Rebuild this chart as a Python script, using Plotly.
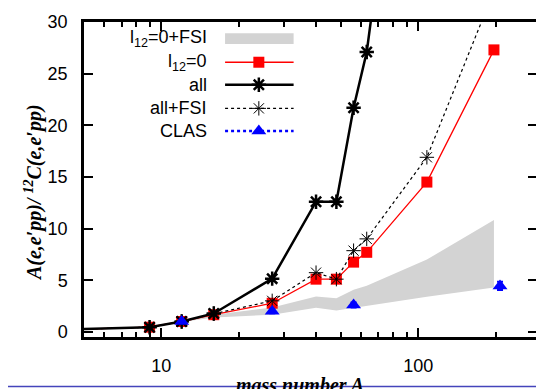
import plotly.graph_objects as go

# ---------------- data ----------------
A = [4, 9, 12, 16, 27, 40, 48, 56, 63, 108, 197]
l12_0 = [0.2, 0.45, 1.0, 1.66, 2.77, 5.1, 5.1, 6.75, 7.7, 14.5, 27.3]
all_ = [0.2, 0.45, 1.0, 1.78, 5.15, 12.6, 12.6, 21.7, 27.1, 65.0, 120.0]
all_fsi = [0.2, 0.45, 1.0, 1.75, 3.0, 5.73, 5.1, 7.86, 9.0, 16.9, 33.0]
band_lo = [0.15, 0.42, 0.95, 1.4, 1.65, 2.33, 2.07, 2.3, 2.55, 3.4, 4.29]
band_hi = [0.2, 0.45, 1.0, 1.66, 2.35, 3.41, 3.24, 4.07, 4.46, 7.0, 10.82]
clas_A = [12, 27, 56, 208]
clas_v = [1.0, 2.0, 2.6, 4.45]
clas_err = [0.1, 0.2, 0.25, 0.4]

x_ticks = [10, 100]
x_minor = [5, 6, 7, 8, 9, 20, 30, 40, 50, 60, 70, 80, 90, 200, 300]
y_ticks = [0, 5, 10, 15, 20, 25, 30]

legend_names = ["l<sub>12</sub>=0+FSI", "l<sub>12</sub>=0", "all", "all+FSI", "CLAS"]

# ---------------- styles ----------------
RED = "#ff0000"
BLUE = "#0000ff"
GRAY = "#d3d3d3"
SANS = "Liberation Sans, Arial, Helvetica, sans-serif"
SERIF = "Liberation Serif, Times New Roman, serif"

# page geometry (browser body has an 8px margin)
OFF = 8
PAGE_W, PAGE_H = 544, 389
PX0, PX1, PY0, PY1 = 84, 540, 16, 337   # plot area on the page
W, H = PAGE_W - OFF, PAGE_H - OFF
ML, MT = PX0 - OFF, PY0 - OFF
MR = W - (PX1 - OFF)
MB = H - (PY1 - OFF)
pw = PX1 - PX0
ph = PY1 - PY0


def paper_x(px):
    return (px - PX0) / pw


def paper_y(py):
    return (PY1 - py) / ph


fig = go.Figure()

# band
fig.add_trace(go.Scatter(x=A + A[::-1], y=band_hi + band_lo[::-1], fill="toself",
                         fillcolor=GRAY, line=dict(width=0, color=GRAY), mode="lines",
                         showlegend=False, hoverinfo="skip"))
# l12=0
fig.add_trace(go.Scatter(x=A, y=l12_0, mode="lines+markers",
                         line=dict(color=RED, width=1.3),
                         marker=dict(symbol="square", size=11, color=RED),
                         showlegend=False))
# all
fig.add_trace(go.Scatter(x=A, y=all_, mode="lines+markers",
                         line=dict(color="black", width=2.5),
                         marker=dict(symbol="asterisk-open", size=12, color="black",
                                     line=dict(color="black", width=2.5)),
                         showlegend=False))
# all+FSI
fig.add_trace(go.Scatter(x=A, y=all_fsi, mode="lines+markers",
                         line=dict(color="black", width=1.2, dash="dot"),
                         marker=dict(symbol="asterisk-open", size=12, color="black",
                                     line=dict(color="black", width=1)),
                         showlegend=False))
# CLAS
fig.add_trace(go.Scatter(x=clas_A, y=clas_v, mode="markers",
                         marker=dict(symbol="triangle-up", size=13, color=BLUE),
                         error_y=dict(type="data", array=clas_err, color=BLUE,
                                      thickness=2, width=3),
                         showlegend=False))

# ------------- custom key (gnuplot style: text right, sample left) -------------
key_text_x = 210
key_x0, key_x1, key_xm = 226, 295, 260
key_y = [33, 57, 80, 104, 127]

fig.add_trace(go.Scatter(x=[key_x0, key_x1, key_x1, key_x0, key_x0],
                         y=[key_y[0] - 5.5, key_y[0] - 5.5, key_y[0] + 5.5, key_y[0] + 5.5, key_y[0] - 5.5],
                         fill="toself", fillcolor=GRAY, line=dict(width=0, color=GRAY),
                         mode="lines", xaxis="x2", yaxis="y2", showlegend=False, hoverinfo="skip"))
fig.add_trace(go.Scatter(x=[key_x0, key_x1], y=[key_y[1]] * 2, mode="lines",
                         line=dict(color=RED, width=1.3), xaxis="x2", yaxis="y2",
                         showlegend=False, hoverinfo="skip"))
fig.add_trace(go.Scatter(x=[key_xm], y=[key_y[1]], mode="markers",
                         marker=dict(symbol="square", size=11, color=RED), xaxis="x2", yaxis="y2",
                         showlegend=False, hoverinfo="skip"))
fig.add_trace(go.Scatter(x=[key_x0, key_x1], y=[key_y[2]] * 2, mode="lines",
                         line=dict(color="black", width=2.5), xaxis="x2", yaxis="y2",
                         showlegend=False, hoverinfo="skip"))
fig.add_trace(go.Scatter(x=[key_xm], y=[key_y[2]], mode="markers",
                         marker=dict(symbol="asterisk-open", size=12, color="black",
                                     line=dict(color="black", width=2.5)),
                         xaxis="x2", yaxis="y2", showlegend=False, hoverinfo="skip"))
fig.add_trace(go.Scatter(x=[key_x0, key_x1], y=[key_y[3]] * 2, mode="lines",
                         line=dict(color="black", width=1.2, dash="dot"), xaxis="x2", yaxis="y2",
                         showlegend=False, hoverinfo="skip"))
fig.add_trace(go.Scatter(x=[key_xm], y=[key_y[3]], mode="markers",
                         marker=dict(symbol="asterisk-open", size=12, color="black",
                                     line=dict(color="black", width=1)),
                         xaxis="x2", yaxis="y2", showlegend=False, hoverinfo="skip"))
fig.add_trace(go.Scatter(x=[key_x0, key_x1], y=[key_y[4]] * 2, mode="lines",
                         line=dict(color=BLUE, width=2.5, dash="dot"), xaxis="x2", yaxis="y2",
                         showlegend=False, hoverinfo="skip"))
fig.add_trace(go.Scatter(x=[key_xm], y=[key_y[4]], mode="markers",
                         marker=dict(symbol="triangle-up", size=13, color=BLUE),
                         xaxis="x2", yaxis="y2", showlegend=False, hoverinfo="skip"))

annotations = []
for name, yy in zip(legend_names, key_y):
    annotations.append(dict(text=name, x=key_text_x, y=yy, xref="x2", yref="y2",
                            xanchor="right", yanchor="middle", showarrow=False,
                            font=dict(family=SANS, size=18, color="black")))

# axis titles
annotations.append(dict(text="<b><i>mass number A</i></b>",
                        x=paper_x(301), y=paper_y(373),
                        xref="paper", yref="paper", xanchor="center", yanchor="top",
                        showarrow=False, font=dict(family=SERIF, size=20, color="black")))
annotations.append(dict(text="<b><i>A(e,e′pp)/ <sup>12</sup>C(e,e′pp)</i></b>",
                        x=paper_x(33), y=paper_y(190),
                        xref="paper", yref="paper", xanchor="center", yanchor="middle",
                        textangle=-90, showarrow=False,
                        font=dict(family=SERIF, size=20, color="black")))

fig.update_layout(
    width=W, height=H,
    margin=dict(l=ML, r=MR, t=MT, b=MB),
    plot_bgcolor="white", paper_bgcolor="white",
    showlegend=False,
    annotations=annotations,
    shapes=[dict(type="line", xref="paper", yref="paper",
                 x0=paper_x(0), x1=paper_x(PAGE_W),
                 y0=paper_y(387.5), y1=paper_y(387.5),
                 line=dict(color="#4444bb", width=1.5))],
    xaxis=dict(type="log", range=[0.699, 2.462],
               tickvals=x_ticks, ticktext=[str(v) for v in x_ticks],
               ticks="inside", ticklen=9, tickwidth=2, tickcolor="black",
               showline=True, linewidth=2.5, linecolor="black", mirror="allticks",
               showgrid=False, zeroline=False,
               minor=dict(tickvals=x_minor, ticks="inside", ticklen=5, tickwidth=2,
                          tickcolor="black", showgrid=False),
               tickfont=dict(family=SANS, size=18, color="black"),
               ticklabelstandoff=11, ticklabeloverflow="allow"),
    yaxis=dict(range=[-0.5, 30], tickvals=y_ticks,
               ticks="inside", ticklen=9, tickwidth=2, tickcolor="black",
               showline=True, linewidth=2.5, linecolor="black", mirror="allticks",
               showgrid=False, zeroline=False,
               tickfont=dict(family=SANS, size=18, color="black"),
               ticklabelstandoff=10, ticklabeloverflow="allow"),
    xaxis2=dict(overlaying="x", anchor="y2", range=[PX0, PX1], visible=False,
                fixedrange=True),
    yaxis2=dict(overlaying="y", anchor="x2", range=[PY1, PY0], visible=False,
                fixedrange=True),
)

fig.write_html("out.html")
